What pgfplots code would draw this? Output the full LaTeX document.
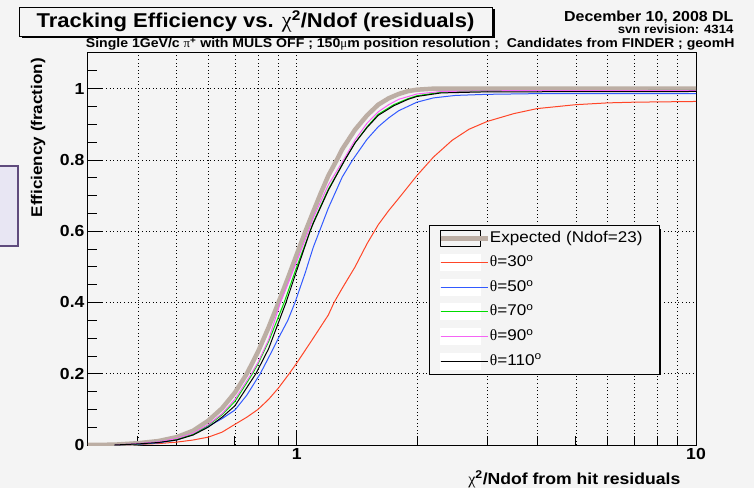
\documentclass[border=0pt]{standalone}
\usepackage{pgfplots}
\pgfplotsset{compat=1.18}
\usepackage{fontspec}
\setmainfont[FakeStretch=1.1]{Liberation Sans}
\newfontfamily\symb{Liberation Serif}

\definecolor{bgc}{RGB}{244,244,244}
\definecolor{lav}{RGB}{232,230,243}
\definecolor{lavd}{RGB}{95,75,125}
\definecolor{expc}{RGB}{188,174,164}
\definecolor{c30}{RGB}{255,70,40}
\definecolor{c50}{RGB}{50,90,255}
\definecolor{c70}{RGB}{0,220,0}
\definecolor{c90}{RGB}{245,100,245}

\pgfplotsset{
  whiteimg/.style={legend image code/.code={
      \fill[white] (0pt,-8pt) rectangle (40pt,8pt);
      \draw[##1] (0pt,0pt) -- (40pt,0pt);
      \path (0pt,0pt) -- (47pt,0pt);
  }},
  boximg/.style={legend image code/.code={
      \draw[black,line width=0.7pt] (0pt,-8pt) rectangle (40pt,8pt);
      \draw[##1] (0pt,0pt) -- (40pt,0pt);
      \path (0pt,0pt) -- (47pt,0pt);
  }},
}

\begin{document}
\begin{tikzpicture}[x=1pt,y=1pt]
\useasboundingbox (0,0) rectangle (754,488);
\fill[bgc] (0,0) rectangle (754,488);
% side box (partial, at the left edge)
\filldraw[fill=lav, draw=lavd, line width=1.5pt] (-3,242) rectangle (18,322);
% title box with shadow
\fill[black] (21.5,449.5) rectangle (494.5,479);
\filldraw[fill=bgc, draw=black, line width=0.8pt] (19,452) rectangle (492,481);
\node[font=\bfseries\fontsize{20}{20}\selectfont] at (255.5,466.5)
  {Tracking Efficiency vs. {\symb\mdseries\fontsize{22}{22}\selectfont χ}\textsuperscript{2}/Ndof (residuals)};
\node[anchor=base east, font=\bfseries\fontsize{14.5}{14.5}\selectfont] at (737,466) {December 10, 2008 DL};
\node[anchor=base east, font=\bfseries\fontsize{12}{12}\selectfont] at (737,454.5) {svn revision: 4314};
\node[anchor=base east, font=\bfseries\fontsize{12.8}{12.8}\selectfont] at (738,440.5)
  {Single 1GeV/c {\symb\mdseries π}\textsuperscript{+} with MULS OFF ; 150{\symb\mdseries μ}m position resolution ;\ \ Candidates from FINDER ; geomH};
% legend shadow
\fill[black] (432.5,113) rectangle (661,259);

\begin{axis}[
  at={(88pt,43pt)}, anchor=south west, scale only axis,
  width=608pt, height=392pt,
  xmode=log, xmin=0.3, xmax=10, ymin=0, ymax=1.1,
  xtick={1,10}, xticklabels={1,10},
  minor xtick={0.4,0.5,0.6,0.7,0.8,0.9,2,3,4,5,6,7,8,9},
  ytick={0,0.2,0.4,0.6,0.8,1},
  minor ytick={0.05,0.1,0.15,0.25,0.3,0.35,0.45,0.5,0.55,0.65,0.7,0.75,0.85,0.9,0.95,1.05},
  xmajorgrids, xminorgrids, ymajorgrids,
  grid style={black, line width=0.6pt, dash pattern=on 0.8pt off 2.8pt},
  major grid style={black, line width=0.6pt, dash pattern=on 0.8pt off 2.8pt},
  minor grid style={black, line width=0.6pt, dash pattern=on 0.8pt off 2.8pt},
  tick align=inside, xtick pos=bottom, ytick pos=left,
  major tick length=15pt, minor tick length=9pt,
  tick style={black, line width=0.8pt},
  axis line style={black, line width=1pt},
  /pgf/number format/assume math mode=true,
  ticklabel style={font=\bfseries\fontsize{16}{16}\selectfont},
  yticklabel style={/pgf/number format/fixed},
  xlabel={{\symb\mdseries χ}\textsuperscript{2}/Ndof from hit residuals},
  ylabel={Efficiency (fraction)},
  xlabel style={at={(axis description cs:0.98,-0.056)}, anchor=north east, font=\bfseries\fontsize{16}{16}\selectfont},
  ylabel style={at={(axis description cs:-0.082,0.996)}, anchor=east, font=\bfseries\fontsize{15.5}{15.5}\selectfont},
  legend cell align=left,
  legend style={at={(axis description cs:0.561,0.561)}, anchor=north west,
    draw=black, line width=0.8pt, fill=bgc,
    inner xsep=9pt, inner ysep=4.5pt, row sep=7.6pt,
    font=\fontsize{15.5}{15.5}\selectfont,
    nodes={inner sep=0pt, text height=12pt, text depth=4pt, text width=160pt, align=left}},
]
\addplot[color=expc, line width=4.5pt, line join=round, boximg] table {
0.30 0.000
0.35 0.001
0.40 0.005
0.45 0.011
0.50 0.022
0.55 0.040
0.60 0.068
0.65 0.103
0.70 0.147
0.75 0.200
0.80 0.262
0.85 0.330
0.90 0.400
0.95 0.468
1.00 0.535
1.05 0.598
1.10 0.655
1.15 0.708
1.20 0.756
1.26 0.800
1.30 0.830
1.40 0.885
1.50 0.925
1.60 0.955
1.70 0.973
1.80 0.985
1.90 0.993
2.00 0.997
2.20 1.000
10.0 1.000
};
\addlegendentry{Expected (Ndof=23)}
\addplot[color=c30, line width=1pt, whiteimg] table {
0.35 0.000
0.40 0.002
0.45 0.004
0.50 0.008
0.55 0.014
0.60 0.022
0.65 0.036
0.70 0.058
0.75 0.078
0.80 0.100
0.85 0.128
0.90 0.160
0.95 0.195
1.00 0.230
1.10 0.300
1.20 0.365
1.24 0.400
1.30 0.440
1.40 0.500
1.50 0.565
1.60 0.618
1.70 0.658
1.80 0.692
2.00 0.756
2.20 0.808
2.45 0.855
2.70 0.886
3.00 0.908
3.50 0.930
4.00 0.944
5.00 0.955
6.00 0.960
7.00 0.962
10.0 0.964
};
\addlegendentry{{\symb θ}=30\textsuperscript{o}}
\addplot[color=c50, line width=1pt, whiteimg] table {
0.35 0.000
0.40 0.002
0.45 0.006
0.50 0.014
0.55 0.030
0.60 0.052
0.65 0.074
0.70 0.098
0.75 0.140
0.81 0.200
0.85 0.245
0.90 0.300
0.95 0.350
0.99 0.400
1.05 0.483
1.10 0.555
1.14 0.600
1.20 0.665
1.30 0.752
1.38 0.800
1.50 0.858
1.60 0.893
1.70 0.918
1.80 0.938
2.00 0.962
2.20 0.974
2.50 0.981
3.00 0.984
4.00 0.986
10.0 0.986
};
\addlegendentry{{\symb θ}=50\textsuperscript{o}}
\addplot[color=c70, line width=1pt, whiteimg] table {
0.35 0.000
0.40 0.003
0.45 0.008
0.50 0.016
0.55 0.030
0.60 0.055
0.65 0.085
0.70 0.122
0.775 0.200
0.80 0.228
0.85 0.290
0.93 0.400
1.00 0.500
1.08 0.600
1.10 0.625
1.20 0.718
1.32 0.800
1.40 0.848
1.50 0.893
1.60 0.928
1.75 0.955
1.90 0.972
2.00 0.980
2.30 0.990
3.00 0.994
10.0 0.995
};
\addlegendentry{{\symb θ}=70\textsuperscript{o}}
\addplot[color=c90, line width=1pt, whiteimg] table {
0.35 0.000
0.40 0.004
0.45 0.009
0.50 0.018
0.55 0.033
0.60 0.057
0.65 0.088
0.70 0.128
0.77 0.200
0.80 0.232
0.85 0.295
0.91 0.400
0.95 0.452
1.00 0.515
1.07 0.600
1.10 0.637
1.20 0.730
1.31 0.800
1.40 0.856
1.50 0.903
1.60 0.935
1.70 0.955
1.80 0.970
2.00 0.985
2.30 0.992
3.00 0.994
10.0 0.995
};
\addlegendentry{{\symb θ}=90\textsuperscript{o}}
\addplot[color=black, line width=1pt, whiteimg] table {
0.35 0.000
0.40 0.003
0.45 0.007
0.50 0.014
0.55 0.028
0.60 0.050
0.65 0.078
0.70 0.110
0.79 0.200
0.85 0.270
0.94 0.400
1.00 0.490
1.08 0.600
1.10 0.622
1.20 0.715
1.32 0.800
1.40 0.848
1.50 0.891
1.60 0.925
1.75 0.952
1.90 0.970
2.00 0.978
2.30 0.988
3.00 0.991
10.0 0.992
};
\addlegendentry{{\symb θ}=110\textsuperscript{o}}
\end{axis}
\end{tikzpicture}
\end{document}
